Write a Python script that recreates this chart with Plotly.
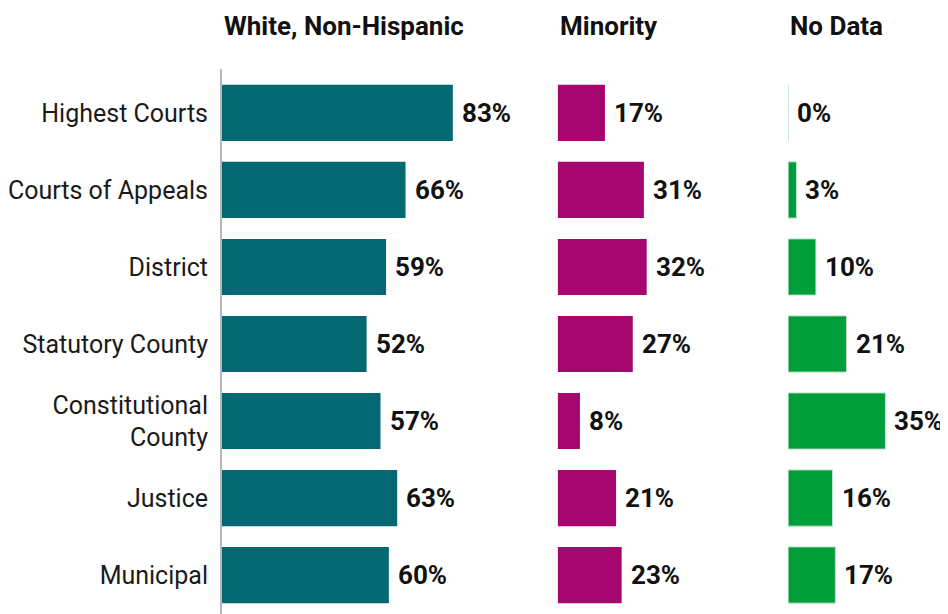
import plotly.graph_objects as go
from plotly.subplots import make_subplots

# data
courts = ["Highest Courts", "Courts of Appeals", "District", "Statutory County",
          "Constitutional<br>County", "Justice", "Municipal"]
white_pct = [83, 66, 59, 52, 57, 63, 60]
minority_pct = [17, 31, 32, 27, 8, 21, 23]
nodata_pct = [0, 3, 10, 21, 35, 16, 17]

panel_titles = ["White, Non-Hispanic", "Minority", "No Data"]
panel_colors = ["#036872", "#a5076f", "#009e3a"]

# the page body has an 8px margin, so the figure is made 8px smaller and shifted
OFF = 8
W, H = 948 - OFF, 614 - OFF
L, T = 219 - OFF - 2, 69 - OFF
plot_w = W - L
px_per_pct = 2.8

# left edges of each panel in pixels (relative to plot area)
starts_px = [0, 557 - 219, 789 - 219]
ends_px = [557 - 219 - 12, 789 - 219 - 12, plot_w]

fig = make_subplots(rows=1, cols=3, shared_yaxes=True, horizontal_spacing=0.02)

series = [white_pct, minority_pct, nodata_pct]
for i, vals in enumerate(series):
    col = i + 1
    fig.add_trace(go.Bar(
        x=vals, y=courts, orientation="h",
        marker=dict(color=panel_colors[i],
                    line=dict(color="#c5e3cf" if i == 2 else panel_colors[i], width=1 if i == 2 else 0)),
        width=0.73, showlegend=False, hoverinfo="skip",
    ), row=1, col=col)
    xname = "x" if col == 1 else f"x{col}"
    for v, c in zip(vals, courts):
        fig.add_annotation(x=v, y=c, xref=xname, yref="y", text=f"<b>{v}%</b>",
                           showarrow=False, xanchor="left", xshift=7,
                           font=dict(family="Roboto", size=26, color="#111111"))

    d0 = starts_px[i] / plot_w
    d1 = ends_px[i] / plot_w
    rng = (ends_px[i] - starts_px[i]) / px_per_pct
    fig.update_xaxes(domain=[d0, d1], range=[0, rng], visible=False, row=1, col=col)

    # panel header
    fig.add_annotation(x=d0, y=1 + (T - 26 + OFF) / (H - T), xref="paper", yref="paper",
                       text=f"<b>{panel_titles[i]}</b>", showarrow=False,
                       xanchor="left", yanchor="middle", xshift=0,
                       font=dict(family="Roboto", size=26, color="#111111"))

fig.update_yaxes(type="category", categoryorder="array", categoryarray=courts,
                 range=[6.506, -0.571], showgrid=False, zeroline=False,
                 showline=True, linecolor="#b8b8b8", linewidth=2,
                 ticks="", ticklabelstandoff=7,
                 tickfont=dict(family="Roboto", size=25, color="#1a1a1a"),
                 row=1, col=1)
fig.update_yaxes(showline=False, showticklabels=False, row=1, col=2)
fig.update_yaxes(showline=False, showticklabels=False, row=1, col=3)

fig.update_layout(
    width=W, height=H,
    margin=dict(l=L, r=0, t=T, b=0),
    plot_bgcolor="white", paper_bgcolor="white",
    bargap=0.27,
    font=dict(family="Roboto"),
)

fig.write_html("out.html")
